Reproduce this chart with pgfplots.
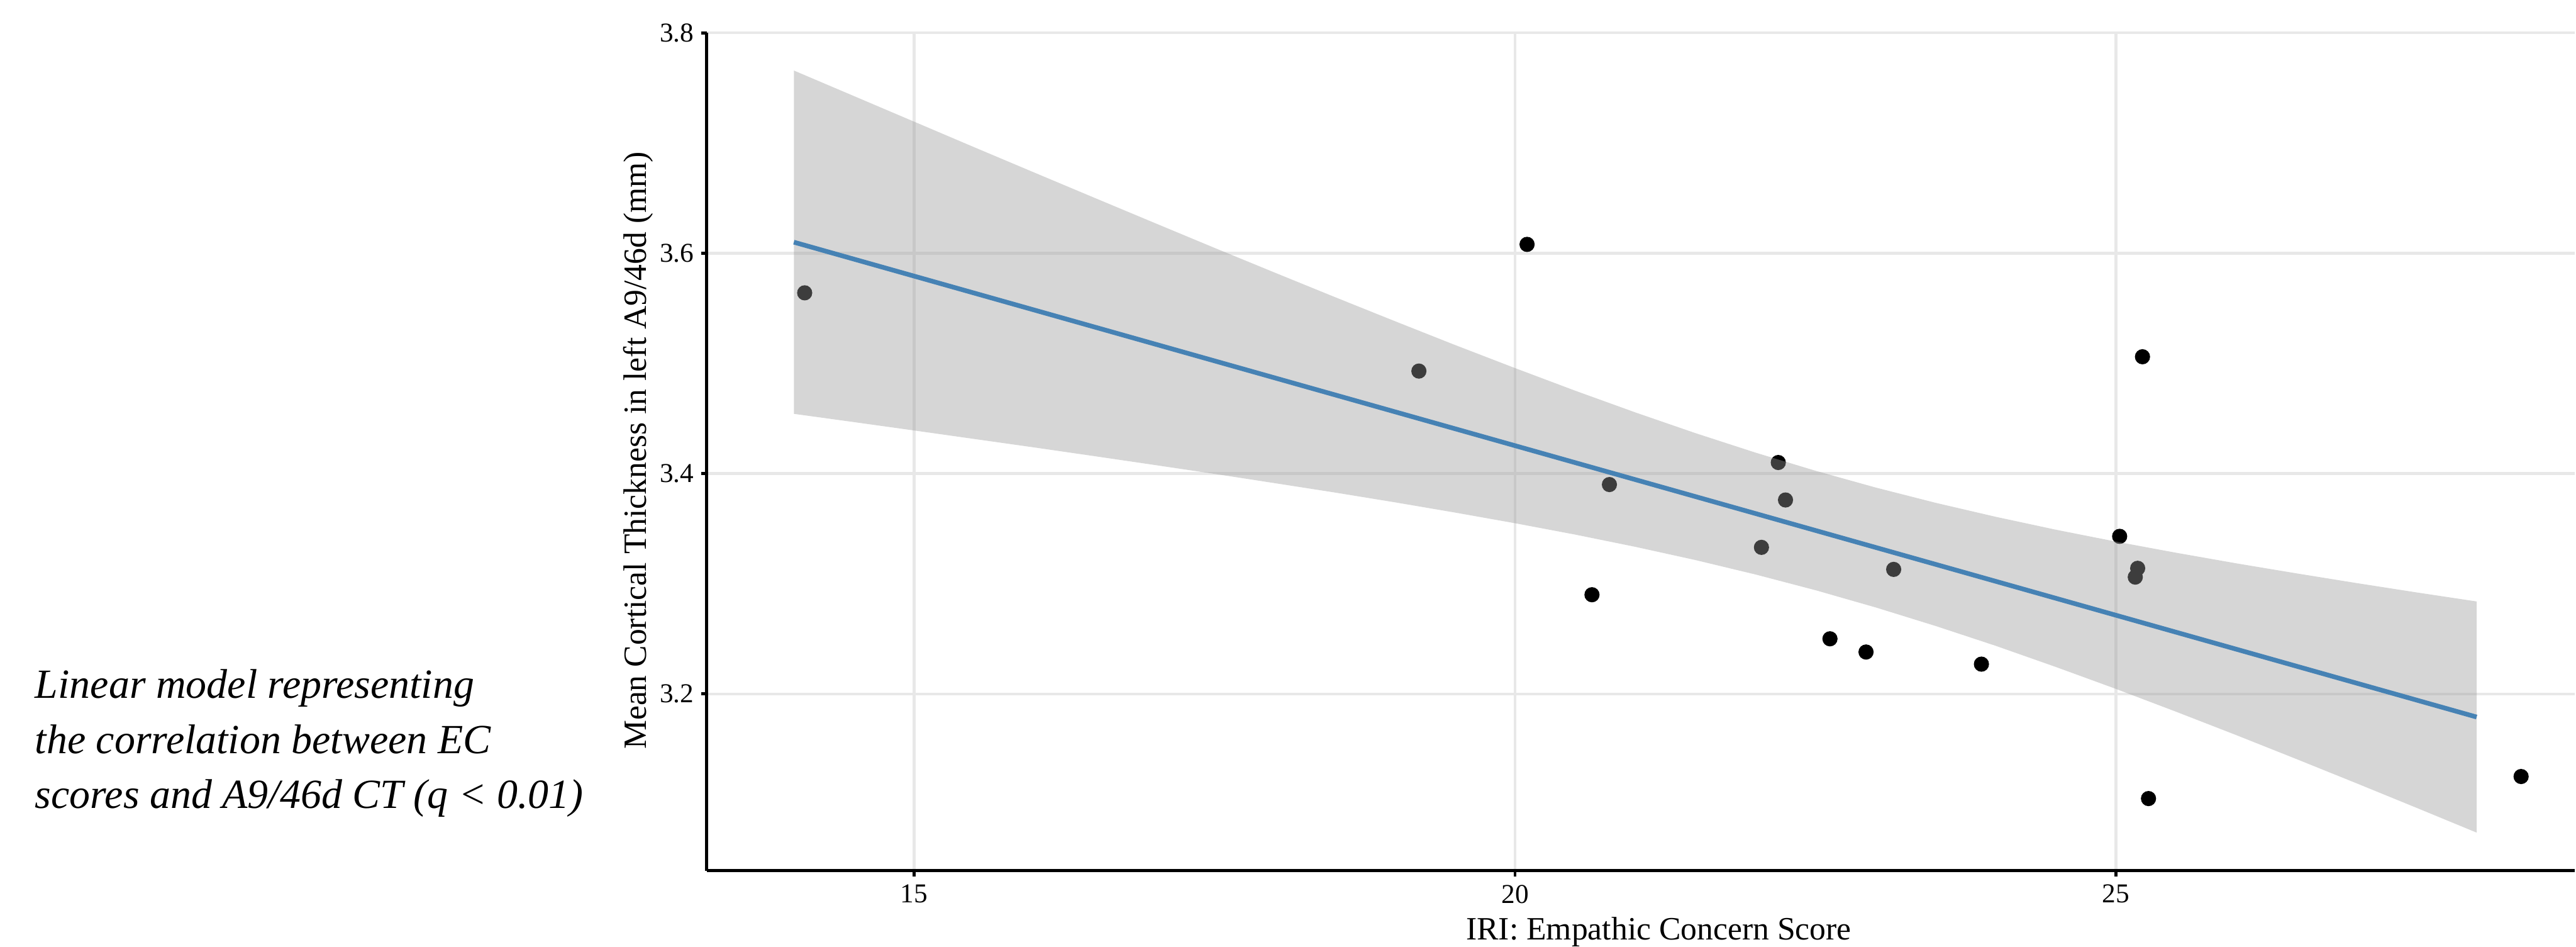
\documentclass[border=0pt]{standalone}
\usepackage{fontspec}
\setmainfont{Liberation Serif}
\usepackage{pgfplots}
\pgfplotsset{compat=1.18}
\definecolor{gridc}{RGB}{232,232,232}
\definecolor{ribbonc}{RGB}{153,153,153}
\definecolor{steel}{RGB}{70,130,180}
\begin{document}
\begin{tikzpicture}
\path (0,0) rectangle (831.96pt,304.92pt);
\begin{axis}[
  at={(228.42pt,23.65pt)}, anchor=south west,
  scale only axis, width=603.54pt, height=270.66pt,
  xmin=13.276, xmax=28.814, ymin=3.0394, ymax=3.8,
  axis x line*=bottom, axis y line*=left,
  axis line style={black, line width=1pt, -},
  xtick={15,20,25}, ytick={3.2,3.4,3.6,3.8},
  minor tick num=0,
  tick align=outside, major tick length=1.8pt,
  tick style={black, line width=1pt},
  grid=major, major grid style={gridc, line width=0.9pt},
  clip mode=individual,
  /pgf/number format/assume math mode=true,
  yticklabel={\pgfmathprintnumber[fixed,fixed zerofill,precision=1]{\tick}},
  yticklabel style={font=\fontsize{8.8}{10}\selectfont, anchor=east, inner sep=0pt, xshift=-2.16pt},
  xticklabel style={font=\fontsize{8.8}{10}\selectfont, anchor=north, inner sep=0pt, yshift=-2.54pt},
  xlabel={IRI: Empathic Concern Score},
  ylabel={Mean Cortical Thickness in left A9/46d (mm)},
  every axis x label/.style={at={(axis description cs:0.50969,-0.08256)}, anchor=base, inner sep=0pt, font=\fontsize{10.5}{12}\selectfont},
  every axis y label/.style={at={(axis description cs:-0.03251,0.5016)}, rotate=90, anchor=base, inner sep=0pt, font=\fontsize{10.5}{12}\selectfont},
]
% observed points (jittered)
\addplot[only marks, mark=*, mark size=2.25pt, mark options={draw=none, fill=black}] coordinates {
  (14.09,3.564) (19.20,3.493) (20.10,3.608) (20.785,3.390) (20.64,3.290)
  (22.19,3.410) (22.25,3.376) (22.05,3.333) (23.15,3.313) (22.62,3.250)
  (22.92,3.238) (23.88,3.227) (25.03,3.343) (25.18,3.314) (25.16,3.306)
  (25.22,3.506) (25.27,3.105) (28.37,3.125)
};
% confidence ribbon (drawn over the points, as in the original)
\addplot[draw=none, fill=ribbonc, fill opacity=0.4] coordinates {
  (14,3.7658) (14.5,3.7426) (15,3.7194) (15.5,3.6962) (16,3.6732) (16.5,3.6503)
  (17,3.6275) (17.5,3.6048) (18,3.5824) (18.5,3.5602) (19,3.5383) (19.5,3.5167)
  (20,3.4957) (20.5,3.4752) (21,3.4555) (21.5,3.4367) (22,3.4190) (22.5,3.4025)
  (23,3.3873) (23.5,3.3734) (24,3.3607) (24.5,3.3490) (25,3.3382) (25.5,3.3281)
  (26,3.3185) (26.5,3.3094) (27,3.3006) (27.5,3.2921) (28,3.2839)
  (28,3.0741) (27.5,3.0966) (27,3.1189) (26.5,3.1409) (26,3.1626) (25.5,3.1838)
  (25,3.2045) (24.5,3.2244) (24,3.2436) (23.5,3.2616) (23,3.2785) (22.5,3.2941)
  (22,3.3084) (21.5,3.3215) (21,3.3335) (20.5,3.3446) (20,3.3549) (19.5,3.3646)
  (19,3.3739) (18.5,3.3828) (18,3.3913) (17.5,3.3997) (17,3.4078) (16.5,3.4158)
  (16,3.4237) (15.5,3.4314) (15,3.4391) (14.5,3.4467) (14,3.4542)
};
% fitted line
\addplot[steel, line width=1.5pt] coordinates {(14,3.610) (28,3.179)};
\end{axis}
\node[anchor=base west, inner sep=0pt, font=\fontsize{13.4}{16}\selectfont\itshape] at (11.16pt,79.38pt) {Linear model representing};
\node[anchor=base west, inner sep=0pt, font=\fontsize{13.4}{16}\selectfont\itshape] at (11.16pt,61.56pt) {the correlation between EC};
\node[anchor=base west, inner sep=0pt, font=\fontsize{13.4}{16}\selectfont\itshape] at (11.16pt,43.92pt) {scores and A9/46d CT (q < 0.01)};
\end{tikzpicture}
\end{document}
